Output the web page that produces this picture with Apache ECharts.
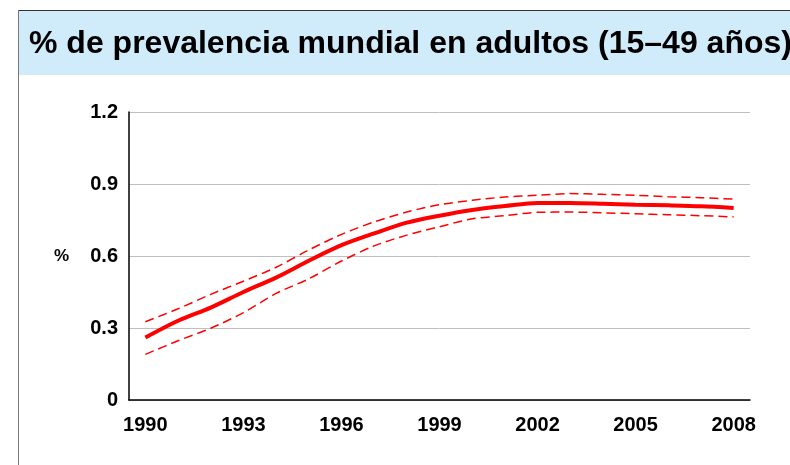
<!DOCTYPE html>
<html>
<head>
<meta charset="utf-8">
<script src="https://cdn.jsdelivr.net/npm/echarts@6/dist/echarts.min.js"></script>
<style>
  html, body { margin: 0; padding: 0; background: #fff; }
  #chart { width: 790px; height: 465px; }
</style>
</head>
<body>
<div id="chart"></div>
<script>
//--------------------------------
// Data
//--------------------------------
const years = ['1990', '1991', '1992', '1993', '1994', '1995', '1996', '1997', '1998', '1999',
               '2000', '2001', '2002', '2003', '2004', '2005', '2006', '2007', '2008'];
const estimate = [0.26, 0.33, 0.385, 0.45, 0.51, 0.58, 0.645, 0.694, 0.739, 0.768,
                  0.792, 0.808, 0.821, 0.821, 0.818, 0.814, 0.811, 0.807, 0.80];
const upperBound = [0.326, 0.38, 0.44, 0.495, 0.553, 0.625, 0.69, 0.742, 0.783, 0.814,
                    0.832, 0.846, 0.853, 0.86, 0.857, 0.853, 0.847, 0.843, 0.837];
const lowerBound = [0.19, 0.247, 0.299, 0.364, 0.444, 0.505, 0.579, 0.642, 0.687, 0.722,
                    0.755, 0.768, 0.782, 0.783, 0.78, 0.776, 0.772, 0.768, 0.763];

const titleText = '% de prevalencia mundial en adultos (15–49 años)';
const font = 'Arial, "Liberation Sans", sans-serif';

//--------------------------------
// Chart
//--------------------------------
var myChart = echarts.init(document.getElementById('chart'));

const dashedSeries = (name, data) => ({
    name: name,
    type: 'line',
    data: data,
    symbol: 'none',
    smooth: 0.3,
    z: 3,
    lineStyle: { color: '#ff0000', width: 1.5, type: [9, 5] }
});

let options = {
    animation: false,
    backgroundColor: '#ffffff',
    graphic: [
        {
            type: 'rect',
            shape: { x: 18, y: 11, width: 772, height: 64 },
            style: { fill: '#d0ecfb' },
            z: -1
        },
        {
            type: 'line',
            shape: { x1: 18, y1: 10.5, x2: 790, y2: 10.5 },
            style: { stroke: '#333333', lineWidth: 1 }
        },
        {
            type: 'line',
            shape: { x1: 18.5, y1: 10, x2: 18.5, y2: 465 },
            style: { stroke: '#777777', lineWidth: 1 }
        }
    ],
    title: {
        text: titleText,
        left: 24,
        top: 23,
        textStyle: {
            fontFamily: font,
            fontSize: 32,
            fontWeight: 'bold',
            color: '#000000'
        }
    },
    grid: {
        left: 129,
        right: 40,
        top: 112,
        bottom: 65,
        containLabel: false
    },
    xAxis: {
        type: 'category',
        data: years,
        boundaryGap: true,
        axisLine: { lineStyle: { color: '#000000', width: 1.5 } },
        axisTick: {
            interval: 0,
            length: 9,
            lineStyle: { color: '#000000', width: 1.5 }
        },
        axisLabel: {
            interval: 2,
            margin: 15,
            fontFamily: font,
            fontSize: 20,
            fontWeight: 'bold',
            color: '#000000'
        },
        splitLine: { show: false }
    },
    yAxis: {
        type: 'value',
        min: 0,
        max: 1.2,
        interval: 0.3,
        name: '%',
        nameLocation: 'middle',
        nameRotate: 0,
        nameGap: 60,
        nameTextStyle: {
            fontFamily: font,
            fontSize: 17,
            fontWeight: 'bold',
            color: '#000000'
        },
        axisLine: { show: true, lineStyle: { color: '#000000', width: 1.5 } },
        axisTick: { show: false },
        axisLabel: {
            margin: 11,
            fontFamily: font,
            fontSize: 20,
            fontWeight: 'bold',
            color: '#000000',
            formatter: (v) => (v === 0 ? '0' : v.toFixed(1))
        },
        splitLine: { lineStyle: { color: '#bfbfbf', width: 1 } }
    },
    series: [
        dashedSeries('upper', upperBound),
        dashedSeries('lower', lowerBound),
        {
            name: 'estimate',
            type: 'line',
            data: estimate,
            symbol: 'none',
            smooth: 0.3,
            z: 4,
            lineStyle: { color: '#ff0000', width: 4 }
        }
    ]
};
myChart.setOption(options);
</script>
</body>
</html>
